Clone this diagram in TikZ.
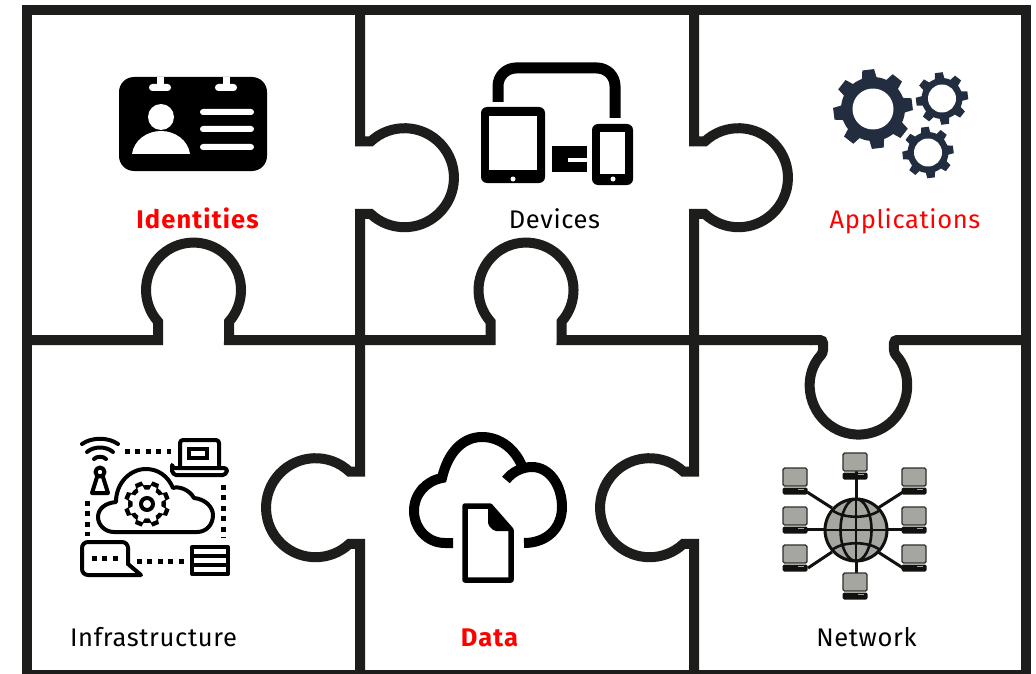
\documentclass[tikz,border=0pt]{standalone}
\usepackage{fontspec}
\setmainfont{Fira Sans}[LetterSpace=2.5]
\newfontfamily\boldlbl{Fira Sans Bold}[LetterSpace=4.5]
\definecolor{ink}{HTML}{1D1D1B}
\definecolor{gearblue}{HTML}{222D40}
\definecolor{netgray}{HTML}{A5A6A0}
\definecolor{netdark}{HTML}{111110}
\tikzset{
  frame/.style={draw=ink,line width=10pt,line join=miter},
  lbl/.style={font=\fontsize{25.5}{28}\selectfont,text=black,inner sep=0pt,anchor=base},
  redbold/.style={lbl,text=red,font=\fontsize{25.5}{28}\selectfont\boldlbl},
  redlbl/.style={lbl,text=red},
  iconline/.style={draw=black,line width=4pt,line join=round,line cap=round},
  dots/.style={draw=black,line width=5pt,dash pattern=on 5pt off 5.4pt},
  netline/.style={draw=netdark,line width=3pt},
}
% x y of a gear: outer, root, hole, teeth, rotation, colour
\newcommand{\gearicon}[8]{%
  \begin{scope}[shift={(#1,#2)}]
    \fill[#8] (0,0) circle (#4);
    \foreach \ga in {1,...,#6}{
      \fill[#8,rotate=#7+\ga*360/#6] (#4-2,-#3*0.19) -- (#3,-#3*0.15) -- (#3,#3*0.15) -- (#4-2,#3*0.19) -- cycle;
    }
    \fill[white] (0,0) circle (#5);
  \end{scope}}
\newcommand{\computer}[2]{%
  \begin{scope}[shift={(#1,#2)}]
    \filldraw[fill=netgray,draw=netdark!80!netgray,line width=1.4pt,rounded corners=1.5pt] (-12,-9) rectangle (12,9);
    \fill[netdark,rounded corners=1.5pt] (-12.5,10.5) rectangle (12.5,17.5);
    \fill[netgray] (3,12) rectangle (9,13.2);
  \end{scope}}
\begin{document}
\begin{tikzpicture}[x=1pt,y=-1pt]
\useasboundingbox (0,0) rectangle (1036,674);
\fill[white] (0,0) rectangle (1036,674);

% --- puzzle frame
\draw[frame] (27,10) rectangle (1026,675);
\draw[frame] (360,10) -- (360,141.5) -- (370.7,141.5)
  arc[start angle=-133,end angle=133,radius=49.5]
  -- (360,213.9) -- (360,340);
\draw[frame] (694,10) -- (694,141.5) -- (704.7,141.5)
  arc[start angle=-133,end angle=133,radius=49.5]
  -- (694,213.9) -- (694,340);
\draw[frame] (360,340) -- (360,471.5) -- (349.3,471.5)
  arc[start angle=-47,end angle=-313,radius=49.5]
  -- (360,543.9) -- (360,675);
\draw[frame] (694,340) -- (694,471.5) -- (683.3,471.5)
  arc[start angle=-47,end angle=-313,radius=49.5]
  -- (694,543.9) -- (694,675);
\draw[frame] (27,340) -- (158,340) -- (158,321.6)
  arc[start angle=138.4,end angle=401.6,radius=47.5]
  -- (229,340) -- (490.5,340) -- (490.5,321.6)
  arc[start angle=138.4,end angle=401.6,radius=47.5]
  -- (561.5,340) -- (812,340);
\draw[frame,rounded corners=3pt] (810,340) -- (823,340) -- (823,353)
  arc[start angle=223,end angle=-43,radius=48.5]
  -- (894,340) -- (1026,340);

% --- identity card
\fill[black,rounded corners=15pt] (119,77) rectangle (267,171);
\fill[white] (157,77) rectangle (164,86);
\fill[white] (223,77) rectangle (230,86);
\fill[white,rounded corners=3.4pt] (149,84) rectangle (171,91);
\fill[white,rounded corners=3.4pt] (215,84) rectangle (237,91);
\fill[white] (161,117) circle (13);
\fill[white] (132,154) .. controls (134,140) and (147,131) .. (161,131) .. controls (175,131) and (188,140) .. (190,154) -- cycle;
\fill[white,rounded corners=3pt] (200,109) rectangle (254,115);
\fill[white,rounded corners=3pt] (200,126) rectangle (254,132);
\fill[white,rounded corners=3pt] (200,144) rectangle (254,150);

% --- devices
\draw[black,line width=11pt,rounded corners=18pt] (498,102) -- (498,68) -- (615,68) -- (615,118);
\fill[black,rounded corners=6pt] (481,107) rectangle (545,183);
\fill[white] (489,116) rectangle (537,170);
\fill[white] (513,179) circle (2.5);
\fill[black,rounded corners=6pt] (592,124) rectangle (633,185);
\fill[white] (600,132) rectangle (625,174);
\fill[white] (613,179) circle (2.5);
\fill[black] (552,146) rectangle (587,172);
\fill[white] (568,158) rectangle (587,162);

% --- gears
\gearicon{873}{109}{39.5}{32}{20.5}{8}{7}{gearblue}
\gearicon{942}{98.5}{26}{20.5}{14}{8}{7}{gearblue}
\gearicon{928}{152.5}{25.5}{20.5}{14}{8}{7}{gearblue}

% --- infrastructure icon
\draw[iconline] (82,444) .. controls (92,437) and (108,437) .. (118,444);
\draw[iconline] (87,452) .. controls (94,446) and (106,446) .. (113,452);
\draw[iconline] (94,459) .. controls (97,456) and (103,456) .. (106,459);
\draw[iconline] (100,472) circle (4.5);
\draw[iconline] (97,477) -- (92,493) -- (108,493) -- (103,477);
\draw[dots] (125,451) -- (171,451);
\draw[iconline,rounded corners=3pt] (180,466) -- (180,440) -- (219,440) -- (219,466);
\draw[iconline,rounded corners=3pt] (172,468) -- (227,468) .. controls (227,473) and (224,475) .. (220,475) -- (179,475) .. controls (175,475) and (172,473) .. (172,468) -- cycle;
\draw[black,line width=3.4pt] (189,449) rectangle (207,458);
\draw[iconline] (114,532) .. controls (105,532) and (98,525) .. (98,517) .. controls (98,509) and (105,503) .. (116,502) .. controls (116,483) and (130,469) .. (146,469) .. controls (158,469) and (168,476) .. (173,488) .. controls (178,486) and (189,489) .. (194,498) .. controls (205,499) and (213,507) .. (213,515) .. controls (213,525) and (206,532) .. (197,532) -- cycle;
\gearicon{147}{504}{23}{19}{14}{8}{22.5}{black}
\gearicon{147}{504}{18.5}{14.5}{0.1}{8}{22.5}{white}
\draw[black,line width=4pt] (147,504) circle (6);
\draw[dots] (87,501) -- (87,536);
\draw[dots] (223,485) -- (223,538);
\draw[iconline,rounded corners=6pt] (128,564) -- (128,542) -- (82,542) -- (82,575) -- (110,575);
\draw[iconline] (110,575) -- (141,575) -- (128,564);
\draw[black,line width=5pt,dash pattern=on 5pt off 5.4pt] (92,558) -- (119,558);
\draw[dots] (137,561) -- (184,561);
\draw[black,line width=4pt,line join=round] (192,547) rectangle (228,574);
\draw[black,line width=4pt] (192,556) -- (228,556) (192,565) -- (228,565);

% --- data cloud
\draw[black,line width=10pt] (453,543) -- (445,543) .. controls (427,543) and (414,528) .. (414,511) .. controls (414,494) and (426,481) .. (442,478) .. controls (448,452) and (463,437) .. (482,437) .. controls (500,437) and (515,449) .. (522,466);
\draw[black,line width=10pt] (506,480) .. controls (512,472) and (522,467) .. (532,467) .. controls (550,467) and (562,486) .. (562,507) .. controls (562,528) and (547,543) .. (524,543);
\draw[black,line width=5.5pt,line join=round] (465,506) -- (490,506) -- (511,530) -- (511,580) -- (465,580) -- cycle;
\fill[black,rounded corners=2pt] (488,505) -- (514,531) -- (494,531) -- (488,525) -- cycle;

% --- network
\draw[netline] (856,470) -- (856,576);
\draw[netline] (807,529) -- (905,529);
\draw[netline] (807,492) -- (832,508);
\draw[netline] (903,492) -- (878,508);
\draw[netline] (808,568) -- (832,552);
\draw[netline] (903,568) -- (878,552);
\filldraw[fill=netgray,draw=netdark,line width=3pt] (856,530) circle (31);
\draw[netdark,line width=2.6pt] (856,530) ellipse (15.5 and 31);
\draw[netdark,line width=2.6pt] (856,499) -- (856,561) (825,530) -- (887,530);
\draw[netdark,line width=2.6pt] (832,510) .. controls (843,519) and (869,519) .. (880,510);
\draw[netdark,line width=2.6pt] (832,550) .. controls (843,541) and (869,541) .. (880,550);
\computer{855}{462}
\computer{795}{477}
\computer{795}{516}
\computer{795}{554}
\computer{855}{582}
\computer{914}{477}
\computer{914}{516}
\computer{914}{554}

% --- labels
\node[redbold] (identities) at (197.5,228) {Identities};
\node[lbl] (devices) at (554.5,228) {Devices};
\node[redlbl] (applications) at (905,228) {Applications};
\node[lbl] (infrastructure) at (153.5,646) {Infrastructure};
\node[redbold] (data) at (489.5,646) {Data};
\node[lbl] (network) at (866.5,646) {Network};
\end{tikzpicture}
\end{document}
